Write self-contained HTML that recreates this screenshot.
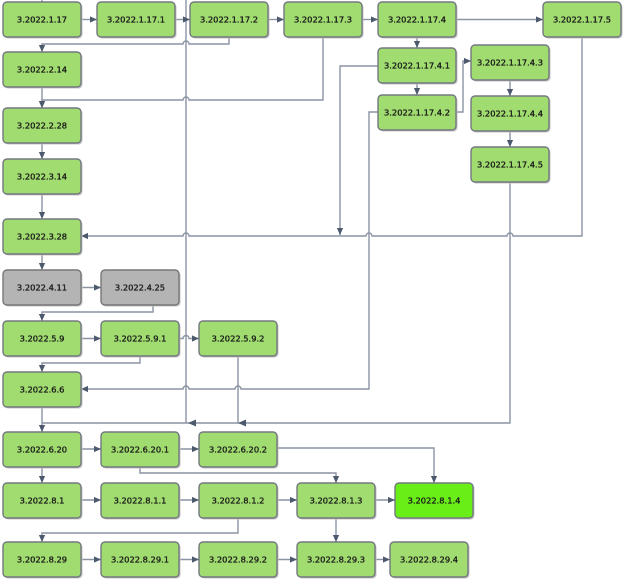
<!DOCTYPE html>
<html><head><meta charset="utf-8"><style>
html,body{margin:0;padding:0;background:#fff;}
svg{display:block;}
.n{fill:#a0dc6f;stroke:#737880;stroke-width:1.4;}
.g{fill:#b4b4b4;stroke:#777;stroke-width:1.4;}
.b{fill:#6aee18;stroke:#737880;stroke-width:1.4;}
.s{fill:#c4c4c4;}
text{font-family:"DejaVu Sans","Liberation Sans",sans-serif;font-size:8.3px;fill:#1a1a1a;text-anchor:middle;stroke:#1a1a1a;stroke-width:0.32px;}
.e{fill:none;stroke:#8a94a4;stroke-width:1.4;}
.a{marker-end:url(#ar);}
</style></head><body>
<svg width="624" height="580" viewBox="0 0 624 580" xmlns="http://www.w3.org/2000/svg">
<defs>
<marker id="ar" viewBox="0 0 10 10" refX="10" refY="5" markerWidth="8" markerHeight="7" markerUnits="userSpaceOnUse" orient="auto">
<path d="M0,0.5 L10,5 L0,9.5 z" fill="#4d5a6e"/>
</marker>
</defs>
<g>
<path class="e" d="M42,0 V2"/>
<path class="e" d="M186,0 V423"/>
<path class="e a" d="M81,19.5 H97"/>
<path class="e a" d="M175,19.5 H190"/>
<path class="e a" d="M268,19.5 H284"/>
<path class="e a" d="M362,19.5 H378"/>
<path class="e a" d="M456,19.5 H543"/>
<path class="e a" d="M229,37 V44 H189 A3,3 0 0 0 183,44 H42 V52"/>
<path class="e a" d="M323,37 V100 H189 A3,3 0 0 0 183,100 H42 V108"/>
<path class="e a" d="M42,88 V108"/>
<path class="e a" d="M42,144 V159"/>
<path class="e a" d="M42,194 V219"/>
<path class="e a" d="M582,37 V236 H513 A3,3 0 0 0 507,236 H372 A3,3 0 0 0 366,236 H189 A3,3 0 0 0 183,236 H81"/>
<path class="e a" d="M378,66 H340 V235"/>
<path class="e a" d="M378,112 H369 V389 H241 A3,3 0 0 0 235,389 H189 A3,3 0 0 0 183,389 H81"/>
<path class="e a" d="M456,112 H463 V61 H471"/>
<path class="e a" d="M417,37 V48"/>
<path class="e a" d="M417,83 V95"/>
<path class="e a" d="M510,80 V96"/>
<path class="e a" d="M510,131 V147"/>
<path class="e" d="M510,182 V423 H42"/>
<path class="e a" d="M42,407 V432"/>
<path d="M188,423 L196,419.5 L196,426.5 z" fill="#4d5a6e"/>
<path d="M238,423 L246,419.5 L246,426.5 z" fill="#4d5a6e"/>
<path class="e a" d="M42,254 V270"/>
<path class="e a" d="M81,287.5 H101"/>
<path class="e a" d="M153,305 V312 H42 V321"/>
<path class="e a" d="M81,338.5 H101"/>
<path class="e a" d="M179,338.5 H183 A3,3 0 0 1 189,338.5 H199"/>
<path class="e a" d="M140,356 V363 H42 V372"/>
<path class="e" d="M238,356 V423"/>
<path class="e a" d="M81,449 H101"/>
<path class="e a" d="M179,449 H199"/>
<path class="e a" d="M277,448 H434 V483"/>
<path class="e a" d="M140,466 V473 H336 V483"/>
<path class="e a" d="M42,466 V483"/>
<path class="e a" d="M81,500 H101"/>
<path class="e a" d="M179,500 H199"/>
<path class="e a" d="M277,500 H297"/>
<path class="e a" d="M374,500 H395"/>
<path class="e a" d="M238,517 V533 H42 V542"/>
<path class="e a" d="M336,517 V542"/>
<path class="e a" d="M81,559.5 H101"/>
<path class="e a" d="M179,559.5 H199"/>
<path class="e a" d="M277,559.5 H297"/>
<path class="e a" d="M374,559.5 H390"/>
</g>
<g class="s">
<rect x="4.5" y="3.5" width="78" height="35" rx="4"/>
<rect x="98.5" y="3.5" width="78" height="35" rx="4"/>
<rect x="191.5" y="3.5" width="78" height="35" rx="4"/>
<rect x="285.5" y="3.5" width="78" height="35" rx="4"/>
<rect x="379.5" y="3.5" width="78" height="35" rx="4"/>
<rect x="544.5" y="3.5" width="78" height="35" rx="4"/>
<rect x="379.5" y="49.5" width="78" height="35" rx="4"/>
<rect x="379.5" y="96.5" width="78" height="35" rx="4"/>
<rect x="472.5" y="46.5" width="78" height="35" rx="4"/>
<rect x="472.5" y="97.5" width="78" height="35" rx="4"/>
<rect x="472.5" y="148.5" width="78" height="35" rx="4"/>
<rect x="4.5" y="53.5" width="78" height="35" rx="4"/>
<rect x="4.5" y="109.5" width="78" height="35" rx="4"/>
<rect x="4.5" y="160.5" width="78" height="35" rx="4"/>
<rect x="4.5" y="220.5" width="78" height="35" rx="4"/>
<rect x="4.5" y="271.5" width="78" height="35" rx="4"/>
<rect x="102.5" y="271.5" width="78" height="35" rx="4"/>
<rect x="4.5" y="322.5" width="78" height="35" rx="4"/>
<rect x="102.5" y="322.5" width="78" height="35" rx="4"/>
<rect x="200.5" y="322.5" width="78" height="35" rx="4"/>
<rect x="4.5" y="373.5" width="78" height="35" rx="4"/>
<rect x="4.5" y="433.5" width="78" height="35" rx="4"/>
<rect x="102.5" y="433.5" width="78" height="35" rx="4"/>
<rect x="200.5" y="433.5" width="78" height="35" rx="4"/>
<rect x="4.5" y="484.5" width="78" height="35" rx="4"/>
<rect x="102.5" y="484.5" width="78" height="35" rx="4"/>
<rect x="200.5" y="484.5" width="78" height="35" rx="4"/>
<rect x="298.5" y="484.5" width="78" height="35" rx="4"/>
<rect x="396.5" y="484.5" width="78" height="35" rx="4"/>
<rect x="4.5" y="543.5" width="78" height="35" rx="4"/>
<rect x="102.5" y="543.5" width="78" height="35" rx="4"/>
<rect x="200.5" y="543.5" width="78" height="35" rx="4"/>
<rect x="298.5" y="543.5" width="78" height="35" rx="4"/>
<rect x="391.5" y="543.5" width="78" height="35" rx="4"/>
</g>
<g>
<rect class="n" x="3" y="2" width="78" height="35" rx="4"/><text x="42" y="22.5">3.2022.1.17</text>
<rect class="n" x="97" y="2" width="78" height="35" rx="4"/><text x="136" y="22.5">3.2022.1.17.1</text>
<rect class="n" x="190" y="2" width="78" height="35" rx="4"/><text x="229" y="22.5">3.2022.1.17.2</text>
<rect class="n" x="284" y="2" width="78" height="35" rx="4"/><text x="323" y="22.5">3.2022.1.17.3</text>
<rect class="n" x="378" y="2" width="78" height="35" rx="4"/><text x="417" y="22.5">3.2022.1.17.4</text>
<rect class="n" x="543" y="2" width="78" height="35" rx="4"/><text x="582" y="22.5">3.2022.1.17.5</text>
<rect class="n" x="378" y="48" width="78" height="35" rx="4"/><text x="417" y="68.5">3.2022.1.17.4.1</text>
<rect class="n" x="378" y="95" width="78" height="35" rx="4"/><text x="417" y="115.5">3.2022.1.17.4.2</text>
<rect class="n" x="471" y="45" width="78" height="35" rx="4"/><text x="510" y="65.5">3.2022.1.17.4.3</text>
<rect class="n" x="471" y="96" width="78" height="35" rx="4"/><text x="510" y="116.5">3.2022.1.17.4.4</text>
<rect class="n" x="471" y="147" width="78" height="35" rx="4"/><text x="510" y="167.5">3.2022.1.17.4.5</text>
<rect class="n" x="3" y="52" width="78" height="35" rx="4"/><text x="42" y="72.5">3.2022.2.14</text>
<rect class="n" x="3" y="108" width="78" height="35" rx="4"/><text x="42" y="128.5">3.2022.2.28</text>
<rect class="n" x="3" y="159" width="78" height="35" rx="4"/><text x="42" y="179.5">3.2022.3.14</text>
<rect class="n" x="3" y="219" width="78" height="35" rx="4"/><text x="42" y="239.5">3.2022.3.28</text>
<rect class="g" x="3" y="270" width="78" height="35" rx="4"/><text x="42" y="290.5">3.2022.4.11</text>
<rect class="g" x="101" y="270" width="78" height="35" rx="4"/><text x="140" y="290.5">3.2022.4.25</text>
<rect class="n" x="3" y="321" width="78" height="35" rx="4"/><text x="42" y="341.5">3.2022.5.9</text>
<rect class="n" x="101" y="321" width="78" height="35" rx="4"/><text x="140" y="341.5">3.2022.5.9.1</text>
<rect class="n" x="199" y="321" width="78" height="35" rx="4"/><text x="238" y="341.5">3.2022.5.9.2</text>
<rect class="n" x="3" y="372" width="78" height="35" rx="4"/><text x="42" y="392.5">3.2022.6.6</text>
<rect class="n" x="3" y="432" width="78" height="35" rx="4"/><text x="42" y="452.5">3.2022.6.20</text>
<rect class="n" x="101" y="432" width="78" height="35" rx="4"/><text x="140" y="452.5">3.2022.6.20.1</text>
<rect class="n" x="199" y="432" width="78" height="35" rx="4"/><text x="238" y="452.5">3.2022.6.20.2</text>
<rect class="n" x="3" y="483" width="78" height="35" rx="4"/><text x="42" y="503.5">3.2022.8.1</text>
<rect class="n" x="101" y="483" width="78" height="35" rx="4"/><text x="140" y="503.5">3.2022.8.1.1</text>
<rect class="n" x="199" y="483" width="78" height="35" rx="4"/><text x="238" y="503.5">3.2022.8.1.2</text>
<rect class="n" x="297" y="483" width="78" height="35" rx="4"/><text x="336" y="503.5">3.2022.8.1.3</text>
<rect class="b" x="395" y="483" width="78" height="35" rx="4"/><text x="434" y="503.5">3.2022.8.1.4</text>
<rect class="n" x="3" y="542" width="78" height="35" rx="4"/><text x="42" y="562.5">3.2022.8.29</text>
<rect class="n" x="101" y="542" width="78" height="35" rx="4"/><text x="140" y="562.5">3.2022.8.29.1</text>
<rect class="n" x="199" y="542" width="78" height="35" rx="4"/><text x="238" y="562.5">3.2022.8.29.2</text>
<rect class="n" x="297" y="542" width="78" height="35" rx="4"/><text x="336" y="562.5">3.2022.8.29.3</text>
<rect class="n" x="390" y="542" width="78" height="35" rx="4"/><text x="429" y="562.5">3.2022.8.29.4</text>
</g>
</svg>
</body></html>
